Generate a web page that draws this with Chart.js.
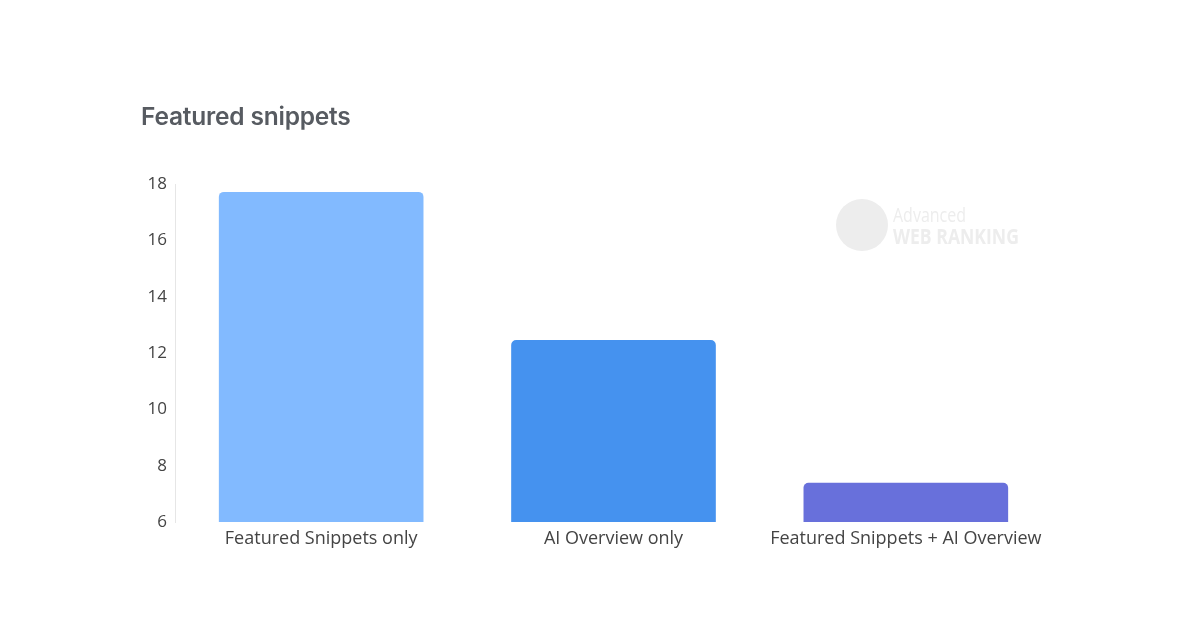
<!DOCTYPE html>
<html>
<head>
<meta charset="utf-8">
<script src="https://cdn.jsdelivr.net/npm/chart.js@4/dist/chart.umd.min.js"></script>
<style>
  html, body { margin: 0; padding: 0; background: #fff; }
  #wrap { position: relative; width: 1200px; height: 638px; }
  #title {
    position: absolute; left: 141px; top: 101px;
    font-family: Inter, "Open Sans", sans-serif; font-weight: 600; font-size: 24.5px;
    color: #575b61; letter-spacing: -0.2px;
  }
</style>
</head>
<body>
<div id="wrap">
  <div id="title">Featured snippets</div>
  <canvas id="chart" width="1200" height="638"></canvas>
</div>
<script>
// chart data
const categories = ["Featured Snippets only", "AI Overview only", "Featured Snippets + AI Overview"];
const values = [17.72, 12.46, 7.39];
const barColors = ["#82baff", "#4592ef", "#6870db"];

// faint watermark in the corner
const watermark = {
  id: "watermark",
  afterDraw(chart) {
    const ctx = chart.ctx;
    ctx.save();
    ctx.fillStyle = "#ededed";
    ctx.beginPath();
    ctx.arc(862, 225, 26, 0, Math.PI * 2);
    ctx.fill();
    ctx.translate(893, 0);
    ctx.scale(0.8, 1);
    ctx.textBaseline = "alphabetic";
    ctx.font = "20px 'Open Sans', sans-serif";
    ctx.fillText("Advanced", 0, 222);
    ctx.font = "bold 22px 'Open Sans', sans-serif";
    ctx.fillText("WEB RANKING", 0, 244);
    ctx.restore();
  }
};

new Chart(document.getElementById("chart"), {
  type: "bar",
  data: {
    labels: categories,
    datasets: [{
      data: values,
      backgroundColor: barColors,
      borderRadius: { topLeft: 5, topRight: 5 },
      borderSkipped: "bottom",
      categoryPercentage: 1,
      barPercentage: 0.7
    }]
  },
  options: {
    responsive: false,
    animation: false,
    plugins: {
      legend: { display: false },
      tooltip: { enabled: false }
    },
    layout: {
      padding: { top: 184, left: 115, right: 148, bottom: 76 }
    },
    scales: {
      x: {
        grid: { display: false },
        border: { display: false },
        ticks: {
          color: "#444",
          padding: -2,
          maxRotation: 0,
          font: { family: "'Open Sans', sans-serif", size: 18 }
        },
        afterFit(scale) { scale.height = 40; }
      },
      y: {
        min: 6,
        max: 18,
        grid: { display: false },
        border: { display: true, color: "#e6e6e6", width: 1 },
        ticks: {
          stepSize: 2,
          color: "#444",
          padding: 0,
          font: { family: "'Open Sans', sans-serif", size: 17 }
        },
        afterFit(scale) { scale.width = 60; }
      }
    }
  },
  plugins: [watermark]
});
</script>
</body>
</html>
